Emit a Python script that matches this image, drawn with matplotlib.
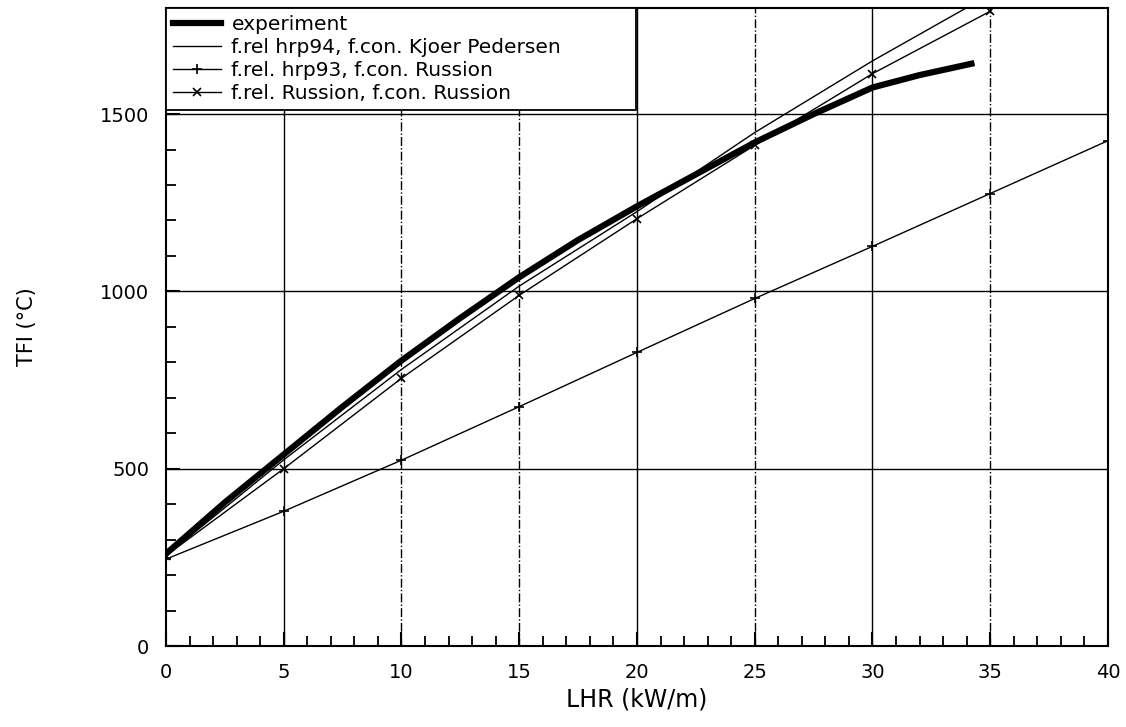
import numpy as np
import matplotlib
matplotlib.use('Agg')
import matplotlib.pyplot as plt
from matplotlib.ticker import MultipleLocator

# fuel centre temperature vs linear heat rate
exp_lhr = [0, 2.5, 5, 7.5, 10, 12.5, 15, 17.5, 20, 22.5, 25, 27.5, 30, 32, 34.2]
exp_tfi = [260, 405, 540, 675, 805, 925, 1040, 1145, 1240, 1330, 1420, 1500, 1575, 1610, 1642]

kp_lhr = [0, 5, 10, 15, 20, 25, 30, 34.0]
kp_tfi = [255, 525, 780, 1015, 1225, 1448, 1650, 1800]

hrp93_lhr = [0, 5, 10, 15, 20, 25, 30, 35, 40]
hrp93_tfi = [245, 380, 524, 675, 828, 980, 1127, 1276, 1425]

rus_lhr = [0, 5, 10, 15, 20, 25, 30, 35]
rus_tfi = [255, 500, 755, 989, 1205, 1412, 1614, 1790]

labels = ['experiment',
          'f.rel hrp94, f.con. Kjoer Pedersen',
          'f.rel. hrp93, f.con. Russion',
          'f.rel. Russion, f.con. Russion']

plt.rcParams['font.family'] = ['DejaVu Sans']

fig = plt.figure(figsize=(11.26, 7.27), dpi=100)
ax = fig.add_axes([0.1474, 0.1114, 0.8366, 0.878])

ax.plot(exp_lhr, exp_tfi, color='black', lw=4.5, label=labels[0])
ax.plot(kp_lhr, kp_tfi, color='black', lw=1.0, label=labels[1])
ax.plot(hrp93_lhr, hrp93_tfi, color='black', lw=1.0, marker='+', ms=7, mew=1.2, label=labels[2])
ax.plot(rus_lhr, rus_tfi, color='black', lw=1.0, marker='x', ms=6, mew=1.2, label=labels[3])

ax.set_xlim(0, 40)
ax.set_ylim(0, 1800)
ax.xaxis.set_major_locator(MultipleLocator(5))
ax.xaxis.set_minor_locator(MultipleLocator(1))
ax.yaxis.set_major_locator(MultipleLocator(500))
ax.yaxis.set_minor_locator(MultipleLocator(100))
ax.tick_params(which='major', direction='in', length=10, width=1.5, labelsize=14, pad=12)
ax.tick_params(which='minor', direction='in', length=7, width=1.3)

# grid at the major ticks, alternating solid and dash-dot like a plotter output
for xv in range(5, 40, 5):
    ax.axvline(xv, color='black', lw=1.0, ls='-' if xv in (5, 20, 30) else '-.', zorder=0)
for yv in (500, 1000, 1500):
    ax.axhline(yv, color='black', lw=1.0, ls='-', zorder=0)

for s in ax.spines.values():
    s.set_linewidth(1.5)

ax.set_xlabel('LHR (kW/m)', fontsize=17, labelpad=4)
ax.set_ylabel('TFI (°C)', fontsize=15, labelpad=45)

leg = ax.legend(loc='upper left', bbox_to_anchor=(0, 0.84, 0.499, 0.16), mode='expand',
                fontsize=14.5, frameon=True, fancybox=False,
                borderaxespad=0, handlelength=2.4, labelspacing=0.2,
                borderpad=0.35, handletextpad=0.5)
leg.get_frame().set_edgecolor('black')
leg.get_frame().set_linewidth(1.3)
leg.get_frame().set_alpha(1)

fig.savefig('out.png', dpi=100)
